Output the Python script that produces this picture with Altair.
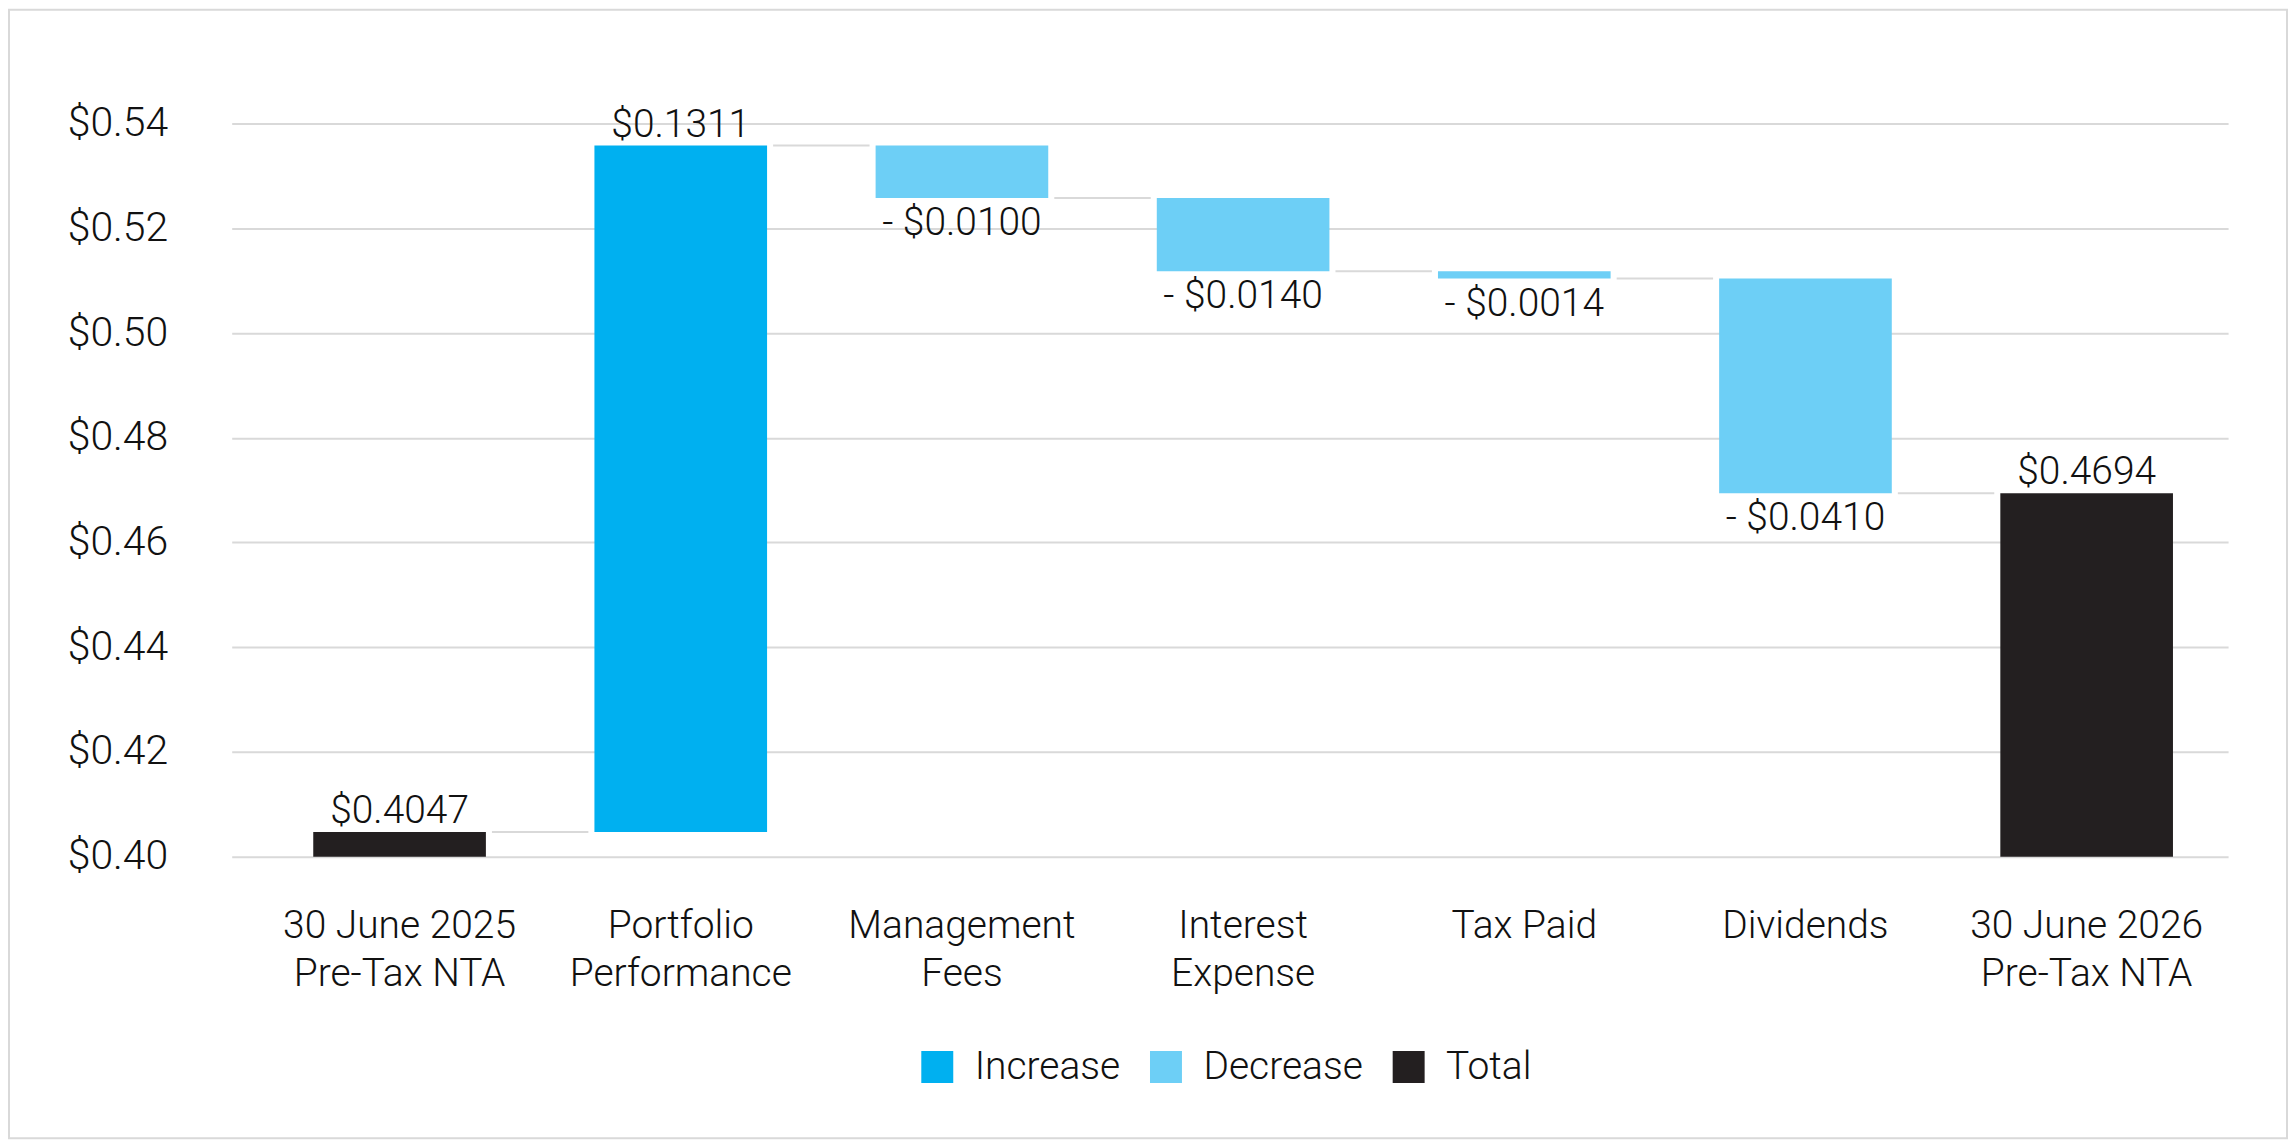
import altair as alt
import pandas as pd

# ---- data ----
categories = [
    "30 June 2025|Pre-Tax NTA",
    "Portfolio|Performance",
    "Management|Fees",
    "Interest|Expense",
    "Tax Paid",
    "Dividends",
    "30 June 2026|Pre-Tax NTA",
]
amounts = [0.4047, 0.1311, -0.0100, -0.0140, -0.0014, -0.0410, 0.4694]
kinds = ["Total", "Increase", "Decrease", "Decrease", "Decrease", "Decrease", "Total"]

kind_domain = ["Increase", "Decrease", "Total"]
kind_colors = ["#00B0F0", "#6DCFF6", "#231F20"]

# ---- build waterfall table ----
rows = []
running = 0.0
for i, (cat, amt, kind) in enumerate(zip(categories, amounts, kinds)):
    if kind == "Total":
        start, end = 0.40, amt
        running = amt
        label = f"${amt:.4f}"
    else:
        start = running
        end = running + amt
        running = end
        label = f"${amt:.4f}" if amt >= 0 else f"- ${abs(amt):.4f}"
    rows.append(dict(cat=cat, kind=kind, start=start, end=end,
                     top=max(start, end), bottom=min(start, end),
                     label=label, level=running,
                     next_cat=categories[i + 1] if i + 1 < len(categories) else None))
df = pd.DataFrame(rows)
conn = df[df["next_cat"].notna()].copy()

FONT = "Roboto Light, Roboto, sans-serif"
FS = 39
TXT = "#111111"
GRID = "#d9d9d9"

x_enc = alt.X(
    "cat:N",
    sort=categories,
    scale=alt.Scale(paddingInner=0, paddingOuter=0.05, align=0.97),
    axis=alt.Axis(
        title=None, labelAngle=0, labelFontSize=FS, labelFont=FONT, labelColor=TXT,
        labelFontWeight=300, labelPadding=69, labelLineHeight=48, labelLimit=0,
        labelExpr="split(datum.label, '|')", ticks=False, domain=False,
        labelAlign="center",
    ),
)
y_scale = alt.Scale(domain=[0.40, 0.54], nice=False, zero=False)

base = alt.Chart(df)

bars = base.mark_bar(width=alt.RelativeBandSize(0.614)).encode(
    x=x_enc,
    y=alt.Y(
        "start:Q", scale=y_scale,
        axis=alt.Axis(
            title=None, values=[0.40, 0.42, 0.44, 0.46, 0.48, 0.50, 0.52, 0.54],
            format="$.2f", labelFontSize=FS + 2, labelFont=FONT, labelColor=TXT,
            labelFontWeight=300, labelPadding=64, ticks=False, tickSize=0,
            domain=False, gridColor=GRID, gridWidth=2,
        ),
    ),
    y2="end:Q",
    color=alt.Color(
        "kind:N",
        scale=alt.Scale(domain=kind_domain, range=kind_colors),
        legend=alt.Legend(
            title=None, orient="none", direction="horizontal",
            legendX=687, legendY=925, symbolType="square", symbolSize=1024,
            symbolStrokeWidth=0, labelFontSize=FS, labelFont=FONT, labelColor=TXT,
            labelFontWeight=300, labelOffset=18, columnPadding=26, padding=0,
        ),
    ),
)

connectors = alt.Chart(conn).mark_rule(
    color=GRID, strokeWidth=2, xOffset=92.5, x2Offset=-92.5
).encode(
    x=alt.X("cat:N", sort=categories),
    x2="next_cat:N",
    y=alt.Y("level:Q", scale=y_scale),
)

labels_above = base.transform_filter("datum.kind != 'Decrease'").mark_text(
    font=FONT, fontSize=FS, fontWeight=300, color=TXT, baseline="alphabetic",
    dy=-9, align="center",
).encode(
    x=alt.X("cat:N", sort=categories),
    y=alt.Y("top:Q", scale=y_scale),
    text="label:N",
)

labels_below = base.transform_filter("datum.kind == 'Decrease'").mark_text(
    font=FONT, fontSize=FS, fontWeight=300, color=TXT, baseline="alphabetic",
    dy=37, align="center",
).encode(
    x=alt.X("cat:N", sort=categories),
    y=alt.Y("bottom:Q", scale=y_scale),
    text="label:N",
)

frame = alt.Chart(pd.DataFrame({"f": [0]})).mark_rect(
    fill=None, stroke=GRID, strokeWidth=2
).encode(
    x=alt.value(-223), x2=alt.value(2058), y=alt.value(-114), y2=alt.value(1016)
)

chart = alt.layer(frame, connectors, bars, labels_above, labels_below).properties(
    width=1999, height=734, padding=0, background="white"
).configure_view(stroke=None)

chart.save("out.html", embed_options={"renderer": "svg", "actions": False})
